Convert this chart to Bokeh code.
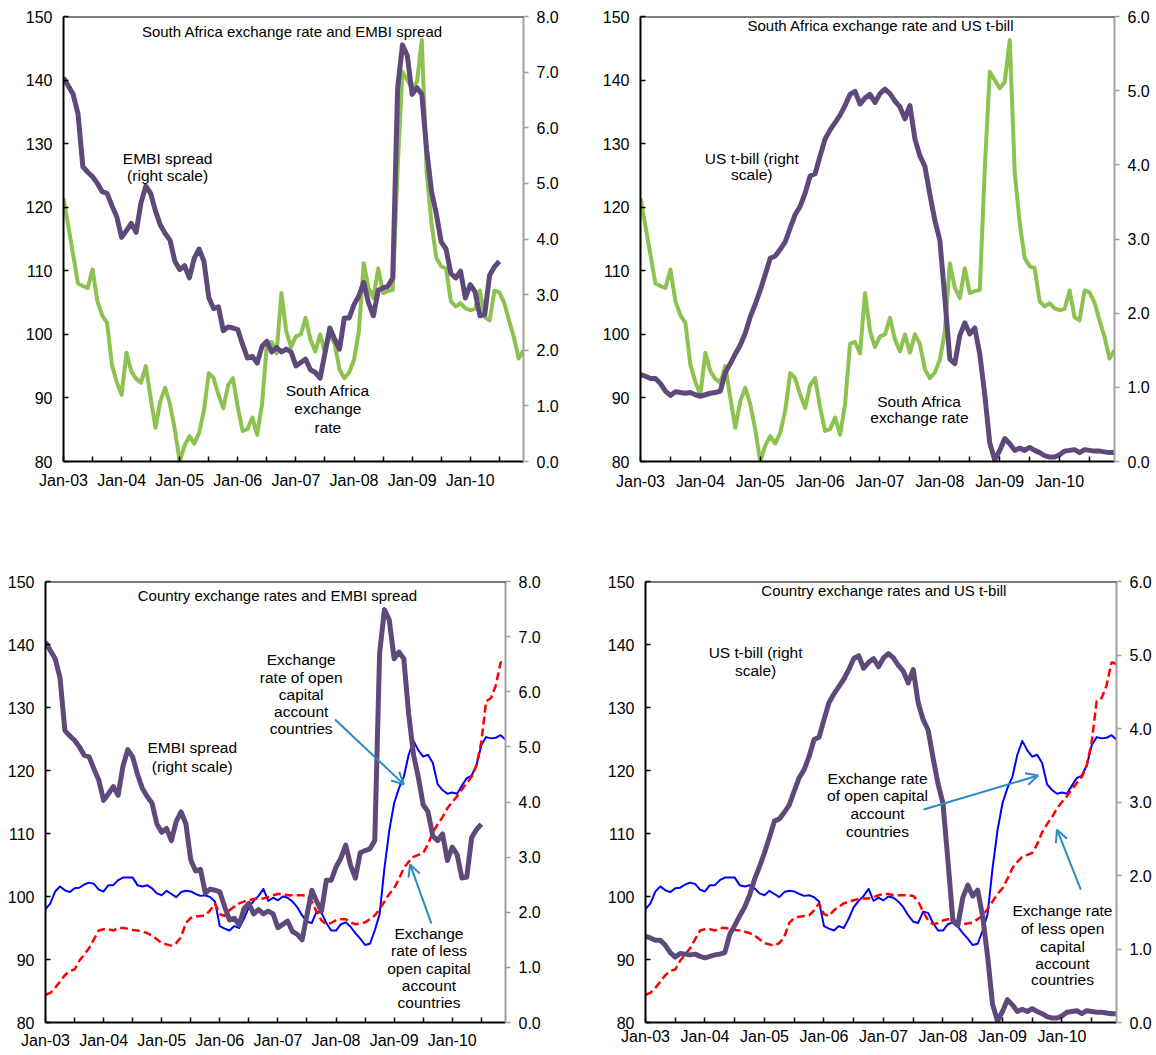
from bokeh.plotting import figure
from bokeh.models import (Range1d, LinearAxis, FixedTicker, NumeralTickFormatter,
                          Label, Arrow, OpenHead, Span)
from bokeh.layouts import column, row
from bokeh.embed import file_html
from bokeh.resources import INLINE

# ---------------- data (monthly, Jan-03 .. Dec-10) ----------------
months = list(range(96))
year_ticks = [0, 12, 24, 36, 48, 60, 72, 84]
half_ticks = [6, 18, 30, 42, 54, 66, 78, 90]
tick_labels = ["Jan-03", "Jan-04", "Jan-05", "Jan-06", "Jan-07", "Jan-08", "Jan-09", "Jan-10"]
left_ticks = [80, 90, 100, 110, 120, 130, 140, 150]
embi_ticks = [0, 1, 2, 3, 4, 5, 6, 7, 8]
tbill_ticks = [0, 1, 2, 3, 4, 5, 6]

sa_fx = [121.4, 117.0, 112.5, 108.0, 107.6, 107.3, 110.2, 105.2, 103.0, 101.8,
         95.2, 92.5, 90.5, 97.1, 94.2, 93.0, 92.4, 95.0, 90.0, 85.3,
         89.5, 91.6, 89.0, 85.0, 80.0, 82.5, 84.0, 82.8, 84.5, 88.0,
         93.9, 93.1, 90.5, 88.4, 92.0, 93.1, 88.5, 84.8, 85.1, 86.9,
         84.2, 89.0, 98.5, 98.8, 97.0, 106.5, 100.5, 98.0, 99.7, 100.0,
         102.6, 99.2, 97.3, 100.0, 97.1, 100.0, 98.5, 94.5, 93.1, 94.0,
         96.0, 100.5, 111.2, 107.3, 105.7, 110.4, 106.5, 106.8, 107.0, 126.0,
         141.3, 140.0, 138.7, 139.7, 146.3, 125.5, 117.5, 112.0, 110.7, 110.4,
         105.2, 104.4, 104.9, 104.1, 103.8, 104.0, 106.9, 102.7, 102.2, 106.9,
         106.6, 105.0, 102.2, 99.6, 96.2, 97.5]

embi = [6.90, 6.75, 6.60, 6.25, 5.30, 5.20, 5.12, 5.00, 4.85, 4.82,
        4.60, 4.40, 4.03, 4.15, 4.28, 4.12, 4.65, 4.95, 4.82, 4.50,
        4.25, 4.10, 3.98, 3.60, 3.45, 3.52, 3.30, 3.65, 3.82, 3.60,
        2.95, 2.75, 2.78, 2.35, 2.42, 2.40, 2.37, 2.10, 1.86, 1.89,
        1.77, 2.07, 2.16, 1.97, 2.05, 1.97, 2.02, 1.97, 1.72, 1.78,
        1.84, 1.65, 1.60, 1.50, 1.95, 2.40, 2.20, 2.02, 2.58, 2.58,
        2.82, 2.98, 3.22, 2.85, 2.62, 3.08, 3.12, 3.15, 3.30, 6.70,
        7.49, 7.30, 6.60, 6.72, 6.60, 5.60, 4.86, 4.45, 3.95, 3.82,
        3.38, 3.30, 3.42, 2.94, 3.18, 3.05, 2.62, 2.64, 3.35, 3.50,
        3.60]

tbill = [1.17, 1.15, 1.12, 1.12, 1.05, 0.95, 0.89, 0.94, 0.93, 0.92,
         0.93, 0.90, 0.88, 0.90, 0.92, 0.93, 0.95, 1.20, 1.32, 1.45,
         1.57, 1.73, 1.95, 2.12, 2.31, 2.52, 2.74, 2.77, 2.86, 2.96,
         3.15, 3.33, 3.44, 3.62, 3.85, 3.88, 4.12, 4.35, 4.47, 4.57,
         4.67, 4.80, 4.95, 4.99, 4.82, 4.90, 4.95, 4.84, 4.96, 5.02,
         4.96, 4.86, 4.78, 4.62, 4.80, 4.35, 4.12, 3.98, 3.60, 3.25,
         2.98, 2.20, 1.38, 1.32, 1.70, 1.87, 1.72, 1.80, 1.45, 0.90,
         0.25, 0.02, 0.15, 0.31, 0.24, 0.15, 0.18, 0.15, 0.19, 0.15,
         0.12, 0.08, 0.06, 0.06, 0.09, 0.14, 0.15, 0.16, 0.12, 0.16,
         0.15, 0.14, 0.14, 0.13, 0.12, 0.12]

open_fx = [98.0, 98.9, 100.8, 101.6, 101.0, 100.7, 101.3, 101.4, 101.9, 102.2,
           102.0, 101.1, 100.8, 101.8, 101.8, 102.6, 103.0, 103.0, 103.0, 101.8,
           101.6, 101.8, 101.3, 100.5, 100.2, 100.9, 100.4, 99.9, 100.7, 100.9,
           100.8, 100.4, 100.1, 100.2, 99.9, 99.2, 95.3, 94.9, 94.6, 95.3,
           95.0, 96.5, 98.3, 99.3, 100.1, 101.2, 99.3, 99.8, 99.4, 100.0,
           99.8, 99.2, 98.3, 97.0, 96.0, 95.8, 97.6, 97.4, 95.8, 94.6,
           94.6, 95.6, 95.9, 95.2, 94.2, 93.3, 92.3, 92.5, 94.6, 97.2,
           104.5, 110.5, 114.8, 117.2, 119.0, 122.5, 124.7, 123.2, 122.2, 122.5,
           121.2, 117.8, 116.9, 116.3, 116.5, 116.3, 117.6, 118.8, 119.2, 120.8,
           124.0, 125.3, 125.1, 125.2, 125.6, 124.9]

less_open_fx = [84.4, 84.7, 85.5, 86.5, 87.5, 88.2, 88.4, 89.8, 90.8, 91.8,
                93.2, 94.6, 94.8, 94.8, 94.6, 95.0, 95.0, 94.9, 94.7, 94.6,
                94.4, 94.2, 93.8, 93.2, 92.6, 92.4, 92.2, 92.6, 93.6, 95.8,
                96.6, 96.8, 96.9, 97.0, 97.8, 98.9, 97.2, 96.9, 97.8, 98.4,
                98.9, 99.2, 99.4, 99.6, 99.7, 99.7, 99.9, 100.2, 100.4, 100.4,
                100.2, 100.2, 100.2, 100.2, 100.1, 99.2, 97.6, 96.2, 95.6, 95.8,
                96.2, 96.4, 96.4, 95.9, 95.6, 95.7, 95.9, 96.4, 97.0, 98.0,
                99.2, 100.4, 101.3, 102.8, 104.5, 105.5, 106.3, 106.6, 106.9, 108.3,
                110.2, 111.5, 112.6, 114.0, 115.0, 115.9, 117.0, 118.0, 119.0, 120.8,
                124.5, 131.0, 131.5, 133.5, 137.2, 136.9]

# ---------------- styling ----------------
FONT = "Liberation Sans"
GREEN = "#8DC150"
PURPLE = "#5F497A"
BLUE = "#0000FF"
RED = "#FF0000"
ARROW = "#2A8BC5"
GRAY = "#A0A0A0"
TICK_FS = "16px"
NOTE_FS = "15.5px"
TITLE_FS = "15px"


def make_panel(width, height, b_left, b_right, b_top, b_bottom, right_max, right_ticks, x_standoff):
    p = figure(width=width, height=height, output_backend="svg", toolbar_location=None,
               x_range=Range1d(0, 95), y_range=Range1d(80, 150),
               x_axis_type=None, y_axis_type=None,
               min_border_left=b_left, min_border_right=b_right,
               min_border_top=b_top, min_border_bottom=b_bottom)
    p.outline_line_color = None
    p.background_fill_color = "white"
    p.border_fill_color = "white"
    p.extra_y_ranges = {"right": Range1d(0, right_max)}

    xaxis = LinearAxis(ticker=FixedTicker(ticks=year_ticks, minor_ticks=half_ticks),
                       major_label_overrides={t: l for t, l in zip(year_ticks, tick_labels)})
    xaxis.axis_line_color = "black"
    xaxis.axis_line_width = 2
    xaxis.major_tick_in = 5
    xaxis.major_tick_out = 0
    xaxis.minor_tick_in = 5
    xaxis.minor_tick_out = 0
    xaxis.major_tick_line_width = 1.5
    xaxis.minor_tick_line_width = 1.5
    xaxis.major_tick_line_color = "black"
    xaxis.minor_tick_line_color = "black"
    xaxis.major_label_standoff = x_standoff
    xaxis.major_label_text_font = FONT
    xaxis.major_label_text_font_size = TICK_FS
    xaxis.major_label_text_color = "black"
    p.add_layout(xaxis, "below")

    yaxis = LinearAxis(ticker=FixedTicker(ticks=left_ticks))
    yaxis.axis_line_color = "black"
    yaxis.axis_line_width = 2
    yaxis.major_tick_in = 5
    yaxis.major_tick_out = 0
    yaxis.major_tick_line_width = 1.5
    yaxis.major_tick_line_color = "black"
    yaxis.minor_tick_line_color = None
    yaxis.major_label_standoff = 11
    yaxis.major_label_text_font = FONT
    yaxis.major_label_text_font_size = TICK_FS
    yaxis.major_label_text_color = "black"
    p.add_layout(yaxis, "left")

    raxis = LinearAxis(y_range_name="right", ticker=FixedTicker(ticks=right_ticks),
                       formatter=NumeralTickFormatter(format="0.0"))
    raxis.axis_line_color = GRAY
    raxis.axis_line_width = 2
    raxis.major_tick_in = 0
    raxis.major_tick_out = 5
    raxis.major_tick_line_width = 1.5
    raxis.major_tick_line_color = GRAY
    raxis.minor_tick_line_color = None
    raxis.major_label_standoff = 8
    raxis.major_label_text_font = FONT
    raxis.major_label_text_font_size = TICK_FS
    raxis.major_label_text_color = "black"
    p.add_layout(raxis, "right")

    p.add_layout(Span(location=150, dimension="width", line_color="black", line_width=2))
    return p


def add_text(p, x, ys, lines, size=NOTE_FS):
    for y, t in zip(ys, lines):
        p.add_layout(Label(x=x, y=y, text=t, text_align="center", text_baseline="middle",
                           text_font=FONT, text_font_size=size, text_color="black"))


def add_arrow(p, x0, y0, x1, y1):
    p.add_layout(Arrow(end=OpenHead(size=12, line_color=ARROW, line_width=2),
                       x_start=x0, y_start=y0, x_end=x1, y_end=y1,
                       line_color=ARROW, line_width=2))


# ---------- panel 1 ----------
p1 = make_panel(586, 566, 63, 63, 14, 105, 8, embi_ticks, 10)
p1.line(months, sa_fx, line_color=GREEN, line_width=4, line_join="round")
p1.line(months[:len(embi)], embi, y_range_name="right", line_color=PURPLE, line_width=5,
        line_join="round")
add_text(p1, 47.7, [147.6], ["South Africa exchange rate and  EMBI spread"], TITLE_FS)
add_text(p1, 21.5, [127.7, 125.0], ["EMBI spread", "(right scale)"])
add_text(p1, 54.6, [91.1, 88.4, 85.4], ["South Africa", "exchange", "rate"])

# ---------- panel 2 ----------
p2 = make_panel(568, 566, 54, 40, 16, 94, 6, tbill_ticks, 11)
p2.line(months, sa_fx, line_color=GREEN, line_width=4, line_join="round")
p2.line(months, tbill, y_range_name="right", line_color=PURPLE, line_width=5, line_join="round")
add_text(p2, 48.6, [148.6], ["South Africa exchange rate and  US t-bill"], TITLE_FS)
add_text(p2, 22.3, [127.7, 125.1], ["US t-bill (right", "scale)"])
add_text(p2, 55.9, [89.5, 86.9], ["South Africa", "exchange rate"])

# ---------- panel 3 ----------
p3 = make_panel(586, 487, 45, 81, 9, 31, 8, embi_ticks, 9)
p3.line(months, open_fx, line_color=BLUE, line_width=2, line_join="round")
p3.line(months, less_open_fx, line_color=RED, line_width=2.5, line_dash="8 4")
p3.line(months[:len(embi)], embi, y_range_name="right", line_color=PURPLE, line_width=5,
        line_join="round")
add_text(p3, 47.9, [147.7], ["Country exchange rates and EMBI spread"], TITLE_FS)
add_text(p3, 30.3, [123.7, 120.7], ["EMBI spread", "(right scale)"])
add_text(p3, 52.8, [137.6, 134.8, 132.0, 129.3, 126.7],
         ["Exchange", "rate of open", "capital", "account", "countries"])
add_arrow(p3, 59.8, 128.1, 74.0, 117.8)
add_text(p3, 79.2, [94.1, 91.5, 88.5, 85.8, 83.1],
         ["Exchange", "rate of less", "open capital", "account", "countries"])
add_arrow(p3, 79.7, 95.7, 75.3, 105.1)

# ---------- panel 4 ----------
p4 = make_panel(568, 487, 59, 37, 15, 24, 6, tbill_ticks, 5)
p4.line(months, open_fx, line_color=BLUE, line_width=2, line_join="round")
p4.line(months, less_open_fx, line_color=RED, line_width=2.5, line_dash="8 4")
p4.line(months, tbill, y_range_name="right", line_color=PURPLE, line_width=5, line_join="round")
add_text(p4, 48.5, [148.5], ["Country exchange rates and  US t-bill"], TITLE_FS)
add_text(p4, 22.2, [138.7, 135.9], ["US t-bill (right", "scale)"])
add_text(p4, 46.8, [118.7, 116.0, 113.1, 110.3],
         ["Exchange rate", "of open capital", "account", "countries"])
add_arrow(p4, 56.1, 113.8, 79.2, 119.2)
add_text(p4, 84.1, [97.7, 95.0, 92.1, 89.4, 86.8],
         ["Exchange rate", "of less open", "capital", "account", "countries"])
add_arrow(p4, 87.8, 101.1, 83.0, 110.6)

layout = column(row(p1, p2, spacing=0), row(p3, p4, spacing=0), spacing=0)
open("out.html", "w").write(file_html(layout, INLINE))
